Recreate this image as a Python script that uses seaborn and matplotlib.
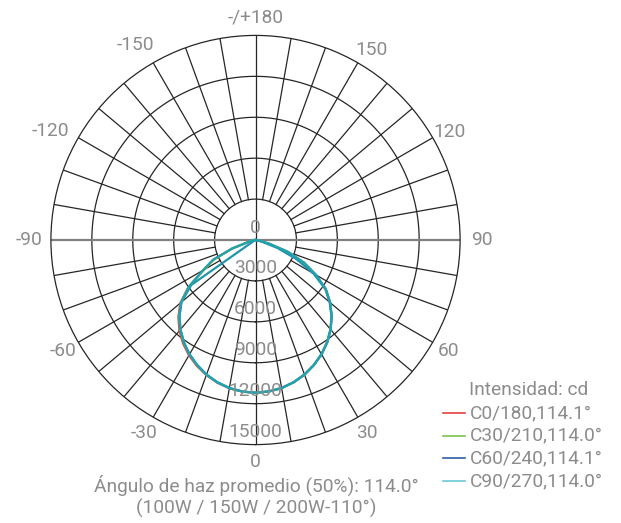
import numpy as np
import pandas as pd
import matplotlib
matplotlib.use("Agg")
import matplotlib.pyplot as plt
from matplotlib.lines import Line2D
import seaborn as sns

# ==================================================
# Data (cd per gamma angle, 5 deg steps, 0..90)
# ==================================================
gamma = [0, 5, 10, 15, 20, 25, 30, 35, 40, 45, 50, 55, 60, 65, 70, 75, 80, 85, 90]

c0 = [11200, 11150, 11020, 10800, 10500, 10120, 9680, 9160, 8570, 7900, 7150, 6300, 5100, 3900, 2500, 1000, 300, 80, 0]
c180 = [11200, 11160, 11040, 10830, 10540, 10180, 9760, 9260, 8680, 8000, 7200, 6000, 4400, 3400, 1800, 500, 120, 0, 0]
c30 = [11200, 11150, 11020, 10800, 10500, 10110, 9660, 9140, 8550, 7880, 7120, 6250, 5000, 3800, 2400, 950, 280, 70, 0]
c210 = [11200, 11150, 11020, 10810, 10510, 10130, 9690, 9170, 8580, 7910, 7120, 5980, 4350, 3350, 1750, 480, 110, 0, 0]
c60 = [11200, 11150, 11020, 10800, 10500, 10120, 9680, 9160, 8560, 7880, 7100, 6250, 4900, 3300, 1700, 500, 100, 0, 0]
c240 = [11200, 11150, 11020, 10800, 10500, 10110, 9670, 9150, 8560, 7880, 7080, 5750, 150, 0, 0, 0, 0, 0, 0]
c90 = [11200, 11150, 11020, 10800, 10500, 10120, 9680, 9160, 8570, 7900, 7150, 6300, 5150, 3950, 2550, 1050, 320, 80, 0]
c270 = [11200, 11150, 11020, 10800, 10500, 10120, 9680, 9160, 8570, 7890, 7120, 5950, 4450, 3450, 1850, 520, 130, 0, 0]

planes = ["C0/180,114.1°", "C30/210,114.0°", "C60/240,114.1°", "C90/270,114.0°"]
sides = [(c0, c180), (c30, c210), (c60, c240), (c90, c270)]

rings = [3000, 6000, 9000, 12000, 15000]
ring_labels = ["3000", "6000", "9000", "12000", "15000"]
angle_ticks = [-150, -120, -90, -60, -30, 0, 30, 60, 90, 120, 150, 180]
angle_labels = ["-150", "-120", "-90", "-60", "-30", "0", "30", "60", "90", "120", "150", "-/+180"]

legend_colors = ["#e8413c", "#7cc34e", "#2f5da6", "#6cc8da"]
curve_colors = ["#e8413c", "#7cc34e", "#2294ac", "#1fa3b3"]

# build long table
rows = []
for name, (pos, neg) in zip(planes, sides):
    for g, v in zip(gamma[::-1], neg[::-1]):
        rows.append((name, np.deg2rad(-g), v))
    for g, v in zip(gamma[1:], pos[1:]):
        rows.append((name, np.deg2rad(g), v))
df = pd.DataFrame(rows, columns=["plane", "theta", "cd"])

# ==================================================
# Figure
# ==================================================
plt.rcParams["font.family"] = ["Roboto", "DejaVu Sans"]
txt_col = "#8c8c8c"
grid_col = "#262626"
fs = 13.8

fig = plt.figure(figsize=(6.21, 5.23), dpi=100)
ax = fig.add_axes([0.0820, 0.1499, 0.6589, 0.7824], projection="polar")
ax.set_theta_zero_location("S")
ax.set_theta_direction(1)
ax.grid(False)
ax.set_xticks([])
ax.set_yticks([])
ax.spines["polar"].set_color(grid_col)
ax.spines["polar"].set_linewidth(0.9)

# rings
th = np.linspace(0, 2 * np.pi, 400)
for r in rings[:-1]:
    ax.plot(th, np.full_like(th, r), color=grid_col, lw=0.9)

# radial lines
for deg in range(-170, 181, 10):
    t = np.deg2rad(deg)
    if deg in (90, -90):
        ax.plot([t, t], [0, 15000], color="#808080", lw=1.6)
    elif deg in (0, 180):
        ax.plot([t, t], [0, 15000], color=grid_col, lw=0.9)
    else:
        ax.plot([t, t], [3000, 15000], color=grid_col, lw=0.9)

# curves
sns.lineplot(data=df, x="theta", y="cd", hue="plane", hue_order=planes,
             palette=dict(zip(planes, curve_colors)), sort=False,
             estimator=None, legend=False, lw=1.6, ax=ax)
ax.set_xlabel("")
ax.set_ylabel("")
ax.set_ylim(0, 15000)

# angle labels, small per-label nudges (deg, radius)
nudge = {-150: (1.5, 500), -120: (2.0, 700), 150: (-1.5, 0), 120: (-1.0, 0),
         -90: (0, 300), 90: (0, 300)}
for a, s in zip(angle_ticks, angle_labels):
    da, dr = nudge.get(a, (0, 0))
    ax.text(np.deg2rad(a + da), 16300 + dr, s, ha="center", va="center",
            fontsize=fs, color=txt_col, clip_on=False)
ax.text(np.pi, 250, "0", ha="center", va="bottom", fontsize=fs, color=txt_col)
for r, s in zip(rings, ring_labels):
    ax.text(0, r - 260, s, ha="center", va="bottom", fontsize=fs, color=txt_col)

# bottom note
fig.text(256 / 621, 1 - 485 / 523, "Ángulo de haz promedio (50%): 114.0°",
         ha="center", va="center", fontsize=fs, color=txt_col)
fig.text(256 / 621, 1 - 508 / 523, "(100W / 150W / 200W-110°)",
         ha="center", va="center", fontsize=fs, color=txt_col)

# legend
fig.text(529 / 621, 1 - 390 / 523, "Intensidad: cd", ha="center", va="center",
         fontsize=fs, color=txt_col)
for i, (name, col) in enumerate(zip(planes, legend_colors)):
    y = 1 - (413 + 22.7 * i) / 523
    fig.add_artist(Line2D([443 / 621, 465 / 621], [y, y], color=col, lw=1.2,
                          transform=fig.transFigure))
    fig.text(470 / 621, y, name, ha="left", va="center", fontsize=fs, color=txt_col)

fig.savefig("out.png", dpi=100)
